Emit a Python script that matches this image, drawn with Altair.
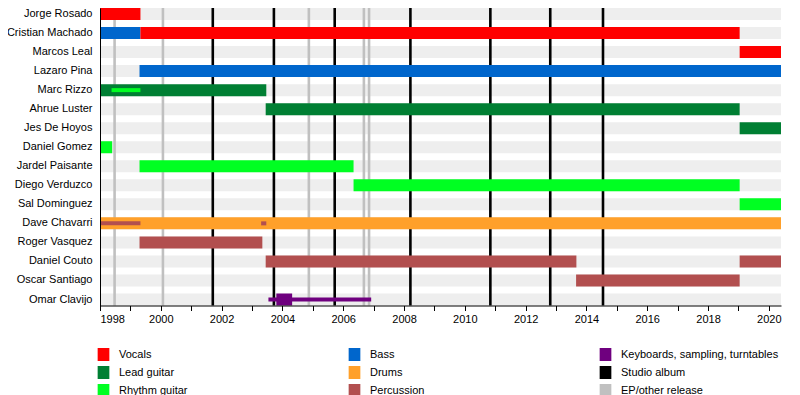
import altair as alt
import pandas as pd

FONT = "Liberation Sans"

members = [
    "Jorge Rosado", "Cristian Machado", "Marcos Leal", "Lazaro Pina",
    "Marc Rizzo", "Ahrue Luster", "Jes De Hoyos", "Daniel Gomez",
    "Jardel Paisante", "Diego Verduzco", "Sal Dominguez", "Dave Chavarri",
    "Roger Vasquez", "Daniel Couto", "Oscar Santiago", "Omar Clavijo",
]

timeline_start = 1998.0
timeline_end = 2020.4

# full-height bars
bar_member = [
    "Jorge Rosado", "Cristian Machado", "Cristian Machado", "Marcos Leal",
    "Lazaro Pina", "Marc Rizzo", "Ahrue Luster", "Jes De Hoyos",
    "Daniel Gomez", "Jardel Paisante", "Diego Verduzco", "Sal Dominguez",
    "Dave Chavarri", "Roger Vasquez", "Daniel Couto", "Daniel Couto",
    "Oscar Santiago", "Omar Clavijo",
]
bar_role = [
    "Vocals", "Bass", "Vocals", "Vocals",
    "Bass", "Lead guitar", "Lead guitar", "Lead guitar",
    "Rhythm guitar", "Rhythm guitar", "Rhythm guitar", "Rhythm guitar",
    "Drums", "Percussion", "Percussion", "Percussion",
    "Percussion", "Keyboards, sampling, turntables",
]
bar_start = [
    1998.0, 1998.0, 1999.33, 2019.04,
    1999.30, 1998.0, 2003.45, 2019.04,
    1998.0, 1999.30, 2006.34, 2019.04,
    1998.0, 1999.30, 2003.45, 2019.04,
    2013.66, 2003.80,
]
bar_end = [
    1999.33, 1999.33, 2019.04, 2020.4,
    2020.4, 2003.47, 2019.04, 2020.4,
    1998.40, 2006.34, 2019.04, 2020.4,
    2020.4, 2003.34, 2013.67, 2020.4,
    2019.04, 2004.32,
]

# thin bars (secondary roles)
thin_member = ["Marc Rizzo", "Dave Chavarri", "Dave Chavarri", "Omar Clavijo"]
thin_role = ["Rhythm guitar", "Percussion", "Percussion", "Keyboards, sampling, turntables"]
thin_start = [1998.38, 1998.0, 2003.30, 2003.54]
thin_end = [1999.33, 1999.33, 2003.47, 2006.92]

# release lines
release_year = [2001.71, 2003.72, 2005.72, 2008.21, 2010.84, 2012.81, 2014.545,
                1998.48, 2000.07, 2004.87, 2006.68, 2006.85]
release_type = ["Studio album"] * 7 + ["EP/other release"] * 5

legend_order = [
    "Vocals", "Lead guitar", "Rhythm guitar",
    "Bass", "Drums", "Percussion",
    "Keyboards, sampling, turntables", "Studio album", "EP/other release",
]
legend_colors = [
    "#ff0000", "#007f33", "#00ff22",
    "#0066cc", "#ffa02a", "#b24f4f",
    "#6f007f", "#000000", "#c0c0c0",
]
color_of = dict(zip(legend_order, legend_colors))

bg_df = pd.DataFrame({"member": members,
                      "start": [timeline_start] * len(members),
                      "end": [timeline_end] * len(members)})
bar_df = pd.DataFrame({"member": bar_member, "role": bar_role,
                       "start": bar_start, "end": bar_end})
thin_df = pd.DataFrame({"member": thin_member, "role": thin_role,
                        "start": thin_start, "end": thin_end})
rel_df = pd.DataFrame({"year": release_year, "role": release_type})

xscale = alt.Scale(domain=[timeline_start, timeline_end], nice=False, zero=False)
xaxis = alt.Axis(
    title=None, values=list(range(1998, 2021)), format="d",
    labelExpr="datum.value % 2 == 0 ? datum.label : ''",
    tickSize=5, tickColor="black", domainColor="black", grid=False,
    labelFont=FONT, labelFontSize=11, labelColor="black", labelPadding=3,
    zindex=1,
)
yscale = alt.Scale(domain=members, paddingInner=0.37, paddingOuter=0)
yaxis = alt.Axis(title=None, ticks=False, labelPadding=8, domainColor="black",
                 labelFont=FONT, labelFontSize=11, labelColor="black",
                 grid=False, labelLimit=200, zindex=1)
cscale = alt.Scale(domain=legend_order, range=legend_colors)

rel_types = ["Studio album", "EP/other release"]
thin_types = ["Rhythm guitar", "Percussion", "Keyboards, sampling, turntables"]
rscale = alt.Scale(domain=rel_types, range=[color_of[t] for t in rel_types])
tscale = alt.Scale(domain=thin_types, range=[color_of[t] for t in thin_types])

bg = alt.Chart(bg_df).mark_bar(size=12, color="#eeeeee").encode(
    x=alt.X("start:Q", scale=xscale, axis=xaxis),
    x2="end:Q",
    y=alt.Y("member:N", scale=yscale, axis=yaxis, sort=members),
)

rules = alt.Chart(rel_df).mark_rule(strokeWidth=2.6).encode(
    x=alt.X("year:Q", scale=xscale, axis=xaxis),
    stroke=alt.Stroke("role:N", scale=rscale, legend=None),
)

bars = alt.Chart(bar_df).mark_bar(size=12).encode(
    x=alt.X("start:Q", scale=xscale, axis=xaxis),
    x2="end:Q",
    y=alt.Y("member:N", scale=yscale, axis=yaxis, sort=members),
    color=alt.Color("role:N", scale=cscale, legend=alt.Legend(
        title=None, orient="none", legendX=-3, legendY=340, columns=3,
        gridAlign="all", columnPadding=71, rowPadding=5,
        symbolType="M-0.9,-1H0.9V1H-0.9Z", symbolSize=169, symbolStrokeWidth=0,
        symbolOpacity=1, labelFont=FONT, labelFontSize=11, labelColor="black",
        labelOffset=9, labelLimit=300, padding=0,
    )),
)

thin = alt.Chart(thin_df).mark_bar(size=4).encode(
    x=alt.X("start:Q", scale=xscale, axis=xaxis),
    x2="end:Q",
    y=alt.Y("member:N", scale=yscale, axis=yaxis, sort=members),
    fill=alt.Fill("role:N", scale=tscale, legend=None),
)

chart = alt.layer(bg, rules, bars, thin).properties(
    width=681, height=297.5,
    padding={"left": 92, "top": 0, "right": 10, "bottom": 90},
    autosize=alt.AutoSizeParams(type="none"),
).configure_view(stroke=None)

chart.save("out.html", embed_options={"renderer": "svg", "actions": False})
